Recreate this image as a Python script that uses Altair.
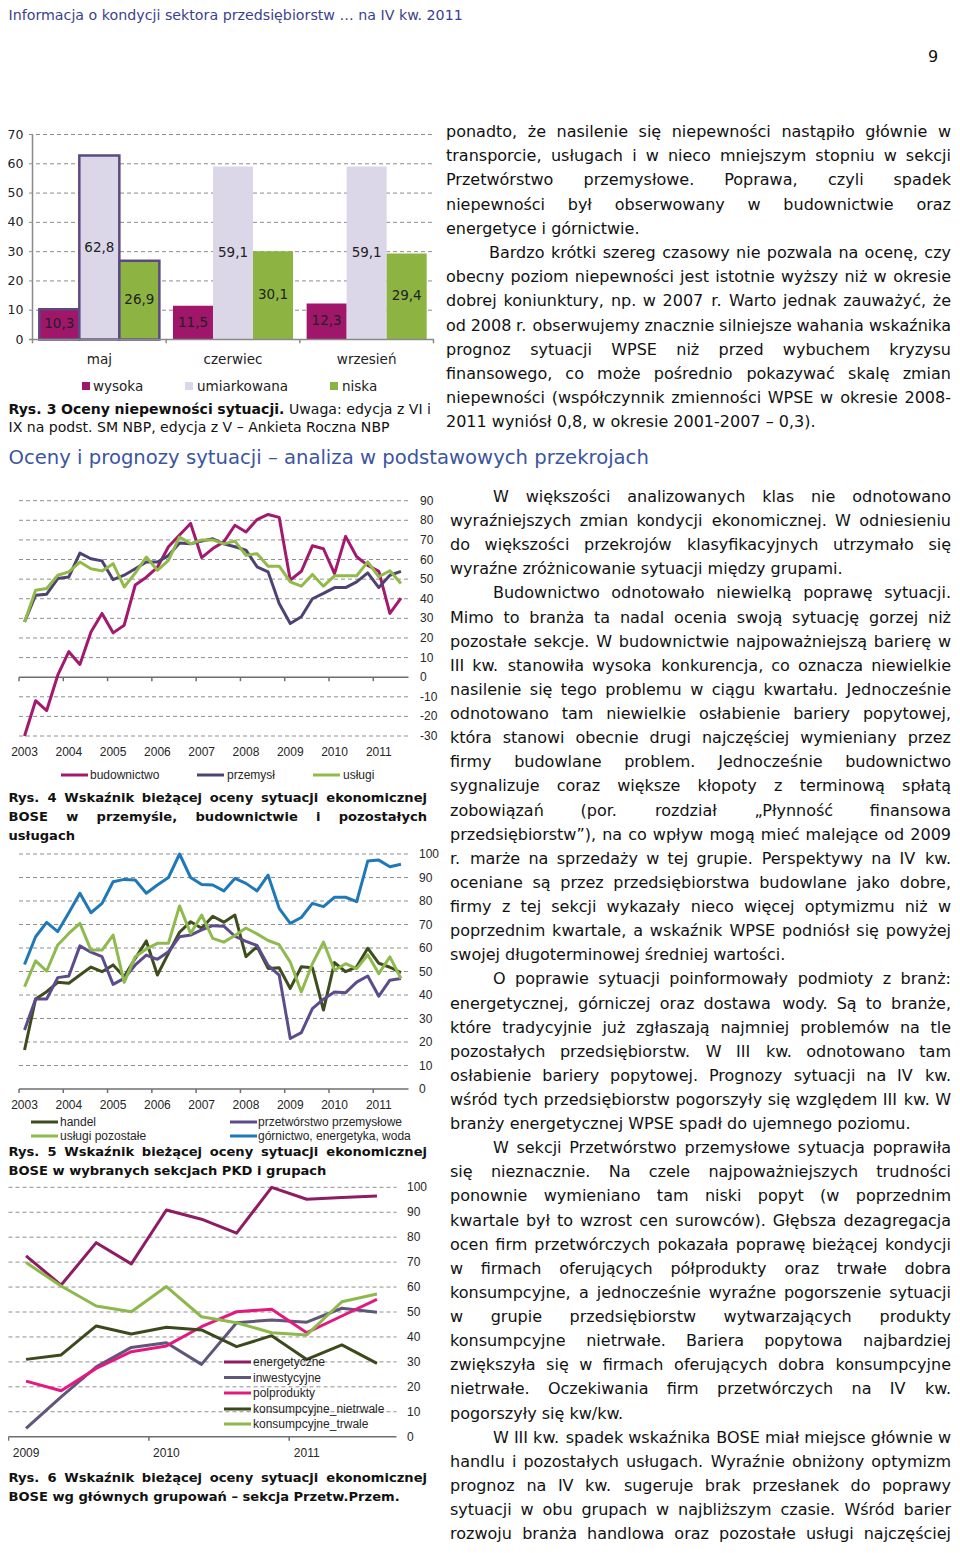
import altair as alt
import pandas as pd

# ------------------------------------------------------------------ data
# Rys. 3
months = ["maj", "czerwiec", "wrzesień"]
levels = ["wysoka", "umiarkowana", "niska"]
wysoka = [10.3, 11.5, 12.3]
umiarkowana = [62.8, 59.1, 59.1]
niska = [26.9, 30.1, 29.4]
ticks3 = [0, 10, 20, 30, 40, 50, 60, 70]
colors3 = ["#A0166B", "#DCD7E8", "#8DB443"]

# Rys. 4 (quarterly 2003Q1 - 2011Q3)
years4 = ["2003", "2004", "2005", "2006", "2007", "2008", "2009", "2010", "2011"]
names4 = ["budownictwo", "przemysł", "usługi"]
budownictwo = [-30, -12, -17, 1, 13, 6.5, 23, 32.5, 22.6, 26.5, 47, 51, 56, 66.5, 72.5, 78.4, 61, 65.6,
               69, 77.5, 74, 80.4, 83, 81.5, 49.5, 54, 67, 65.5, 52.8, 71.8, 61.4, 57, 54, 32.5, 40.3]
przemysl = [28.2, 41.8, 42.3, 50.3, 51.1, 63.3, 60.4, 59.3, 49.7, 52, 55.3, 58.7, 58.7, 62, 68.4, 68, 69.4,
            70.6, 68, 66.5, 64.8, 56.3, 53.7, 37.6, 27.4, 30.8, 40, 42.7, 45.7, 45.7, 48.6, 53.2, 45.7, 52, 54]
uslugi = [28.2, 44.3, 45.2, 52, 53.7, 58.7, 55.3, 54.2, 57.9, 46, 53.1, 61.3, 54.5, 59.6, 71.5, 68, 70, 70,
          68, 69.4, 62.2, 63, 56.6, 56.6, 48.6, 46.4, 52.4, 46.4, 51.7, 51.7, 51.7, 58.8, 51.2, 54.3, 47.8]
colors4 = ["#A3196E", "#4E4275", "#92BA48"]
ticks4 = [-30, -20, -10, 0, 10, 20, 30, 40, 50, 60, 70, 80, 90]

# Rys. 5 (quarterly 2003Q1 - 2011Q3)
names5 = ["handel", "przetwórstwo przemysłowe", "usługi pozostałe", "górnictwo, energetyka, woda"]
handel = [16.6, 38.3, 41.4, 45.4, 45, 48.5, 51.9, 49.9, 52.8, 47.8, 55.6, 63, 48.5, 57.7, 66.7, 71.2, 68.4,
          73.5, 71, 74, 56.3, 60.6, 51.3, 51.6, 42.8, 52, 51.6, 33.6, 53.8, 49.9, 52, 59.9, 53.5, 51.8, 49.5]
przetworstwo = [25.1, 38.3, 38.3, 47.4, 48.1, 60.9, 58.2, 56.3, 44.5, 47.1, 52.8, 57, 55.2, 58.4, 64.8, 65.5,
                67.7, 69.5, 69.3, 65, 62.8, 61.1, 52.6, 48.5, 21.5, 24, 34.2, 38.2, 41.3, 41, 45.5, 48.1,
                39.5, 46.3, 47]
uslugi_poz = [43.5, 54.5, 50.2, 61.3, 66.2, 70.5, 59.1, 59.1, 65.5, 45.4, 56.3, 59.6, 62, 62, 77.9, 66.2, 74,
              64.1, 62.5, 65.3, 68.5, 66, 63.2, 61.4, 54, 41.3, 53.3, 62.5, 50.5, 53.3, 51.2, 57.1, 49.1,
              56.2, 47]
gornictwo = [53, 64.8, 70.9, 67, 75, 83.3, 75, 79, 88.2, 89.2, 88.9, 83.3, 86.8, 90, 100, 90, 87, 86.8, 84.3,
             89.6, 87.5, 84.3, 91, 76.9, 70.5, 73, 79, 77.6, 81.6, 81.6, 79.7, 97, 97.4, 94.6, 95.6]
colors5 = ["#3F4D1E", "#5D4C8C", "#8EBA4E", "#1F78B8"]
ticks5 = [0, 10, 20, 30, 40, 50, 60, 70, 80, 90, 100]

# Rys. 6 (quarterly 2009Q1 - 2011Q3)
years6 = ["2009", "2010", "2011"]
names6 = ["energetyczne", "inwestycyjne", "polprodukty", "konsumpcyjne_nietrwale", "konsumpcyjne_trwale"]
energetyczne = [72.5, 60.8, 77.8, 69.3, 90.9, 87.2, 81.6, 100, 95.2, 95.9, 96.5]
inwestycyjne = [3.3, 16, 28, 35.8, 37.7, 29, 45.7, 46.8, 45.9, 51.5, 49.9]
polprodukty = [22.3, 18.4, 27.4, 34.1, 36.4, 44.1, 50.1, 51.1, 41.7, 48.4, 55.1]
nietrwale = [31, 32.8, 44.4, 41.2, 43.9, 42.8, 36.1, 40.5, 31, 36.8, 29.4]
trwale = [69.8, 60.4, 52.4, 50.1, 60.2, 48.1, 45.7, 41.7, 40.8, 54.1, 57.2]
colors6 = ["#8E1C62", "#5F5679", "#E21A80", "#3B491C", "#8DB84B"]
ticks6 = [0, 10, 20, 30, 40, 50, 60, 70, 80, 90, 100]

# ------------------------------------------------------------------ texts
header = "Informacja o kondycji sektora przedsiębiorstw … na IV kw. 2011"
page_no = "9"
section = "Oceny i prognozy sytuacji – analiza w podstawowych przekrojach"
cap3_bold = "Rys. 3 Oceny niepewności sytuacji."
cap3_norm = "Uwaga: edycja z VI i"
cap3_l2 = "IX na podst. SM NBP, edycja z V – Ankieta Roczna NBP"
cap4 = ["Rys. 4 Wskaźnik bieżącej oceny sytuacji ekonomicznej",
        "BOSE w przemyśle, budownictwie i pozostałych", "usługach"]
cap5 = ["Rys. 5 Wskaźnik bieżącej oceny sytuacji ekonomicznej",
        "BOSE w wybranych sekcjach PKD i grupach"]
cap6 = ["Rys. 6 Wskaźnik bieżącej oceny sytuacji ekonomicznej",
        "BOSE wg głównych grupowań – sekcja Przetw.Przem."]

paras_top = [
    ["ponadto, że nasilenie się niepewności nastąpiło głównie w",
     "transporcie, usługach i w nieco mniejszym stopniu w sekcji",
     "Przetwórstwo przemysłowe. Poprawa, czyli spadek",
     "niepewności był obserwowany w budownictwie oraz",
     "energetyce i górnictwie."],
    ["Bardzo krótki szereg czasowy nie pozwala na ocenę, czy",
     "obecny poziom niepewności jest istotnie wyższy niż w okresie",
     "dobrej koniunktury, np. w 2007 r. Warto jednak zauważyć, że",
     "od 2008 r. obserwujemy znacznie silniejsze wahania wskaźnika",
     "prognoz sytuacji WPSE niż przed wybuchem kryzysu",
     "finansowego, co może pośrednio pokazywać skalę zmian",
     "niepewności (współczynnik zmienności WPSE w okresie 2008-",
     "2011 wyniósł 0,8, w okresie 2001-2007 – 0,3)."],
]
paras_bottom = [
    ["W większości analizowanych klas nie odnotowano",
     "wyraźniejszych zmian kondycji ekonomicznej. W odniesieniu",
     "do większości przekrojów klasyfikacyjnych utrzymało się",
     "wyraźne zróżnicowanie sytuacji między grupami."],
    ["Budownictwo odnotowało niewielką poprawę sytuacji.",
     "Mimo to branża ta nadal ocenia swoją sytuację gorzej niż",
     "pozostałe sekcje. W budownictwie najpoważniejszą barierę w",
     "III kw. stanowiła wysoka konkurencja, co oznacza niewielkie",
     "nasilenie się tego problemu w ciągu kwartału. Jednocześnie",
     "odnotowano tam niewielkie osłabienie bariery popytowej,",
     "która stanowi obecnie drugi najczęściej wymieniany przez",
     "firmy budowlane problem. Jednocześnie budownictwo",
     "sygnalizuje coraz większe kłopoty z terminową spłatą",
     "zobowiązań (por. rozdział „Płynność finansowa",
     "przedsiębiorstw”), na co wpływ mogą mieć malejące od 2009",
     "r. marże na sprzedaży w tej grupie. Perspektywy na IV kw.",
     "oceniane są przez przedsiębiorstwa budowlane jako dobre,",
     "firmy z tej sekcji wykazały nieco więcej optymizmu niż w",
     "poprzednim kwartale, a wskaźnik WPSE podniósł się powyżej",
     "swojej długoterminowej średniej wartości."],
    ["O poprawie sytuacji poinformowały podmioty z branż:",
     "energetycznej, górniczej oraz dostawa wody. Są to branże,",
     "które tradycyjnie już zgłaszają najmniej problemów na tle",
     "pozostałych przedsiębiorstw. W III kw. odnotowano tam",
     "osłabienie bariery popytowej. Prognozy sytuacji na IV kw.",
     "wśród tych przedsiębiorstw pogorszyły się względem III kw. W",
     "branży energetycznej WPSE spadł do ujemnego poziomu."],
    ["W sekcji Przetwórstwo przemysłowe sytuacja poprawiła",
     "się nieznacznie. Na czele najpoważniejszych trudności",
     "ponownie wymieniano tam niski popyt (w poprzednim",
     "kwartale był to wzrost cen surowców). Głębsza dezagregacja",
     "ocen firm przetwórczych pokazała poprawę bieżącej kondycji",
     "w firmach oferujących półprodukty oraz trwałe dobra",
     "konsumpcyjne, a jednocześnie wyraźne pogorszenie sytuacji",
     "w grupie przedsiębiorstw wytwarzających produkty",
     "konsumpcyjne nietrwałe. Bariera popytowa najbardziej",
     "zwiększyła się w firmach oferujących dobra konsumpcyjne",
     "nietrwałe. Oczekiwania firm przetwórczych na IV kw.",
     "pogorszyły się kw/kw."],
    ["W III kw. spadek wskaźnika BOSE miał miejsce głównie w",
     "handlu i pozostałych usługach. Wyraźnie obniżony optymizm",
     "prognoz na IV kw. sugeruje brak przesłanek do poprawy",
     "sytuacji w obu grupach w najbliższym czasie. Wśród barier",
     "rozwoju branża handlowa oraz pozostałe usługi najczęściej"],
]

# ------------------------------------------------------------------ layout helpers
BF = "DejaVu Sans"        # document font
CF = "Liberation Sans"    # chart font
CC = "#262626"
LEFT = 8.5                # first visible page column (page margin is 8px)
RIGHT = 951               # last visible page column


def px(x):
    return x - 8


def py(y):
    return y - 8


REG = dict(zip("abcdefghijklmnopqrstuvwxyz",
               [0.613, 0.635, 0.550, 0.635, 0.615, 0.352, 0.635, 0.634, 0.278, 0.278, 0.579, 0.278, 0.974,
                0.634, 0.612, 0.635, 0.635, 0.411, 0.521, 0.392, 0.634, 0.592, 0.818, 0.592, 0.592, 0.525]))
REG.update(zip("ABCDEFGHIJKLMNOPQRSTUVWXYZ",
               [0.684, 0.686, 0.698, 0.770, 0.632, 0.575, 0.775, 0.752, 0.295, 0.295, 0.656, 0.557, 0.863,
                0.748, 0.787, 0.603, 0.787, 0.695, 0.635, 0.611, 0.732, 0.684, 0.989, 0.685, 0.611, 0.685]))
REG.update({c: 0.636 for c in "0123456789"})
REG.update({" ": 0.318, ".": 0.318, ",": 0.318, ":": 0.337, ";": 0.337, "(": 0.390, ")": 0.390,
            "-": 0.361, "–": 0.5, "„": 0.518, "”": 0.518, "/": 0.337, "…": 1.0, "ł": 0.29})
BOLD = dict(zip("abcdefghijklmnopqrstuvwxyz",
                [0.675, 0.716, 0.593, 0.716, 0.678, 0.435, 0.716, 0.712, 0.343, 0.343, 0.665, 0.343, 1.042,
                 0.712, 0.687, 0.716, 0.716, 0.493, 0.595, 0.478, 0.712, 0.652, 0.924, 0.645, 0.652, 0.582]))
BOLD.update(zip("ABCDEFGHIJKLMNOPQRSTUVWXYZ",
                [0.774, 0.762, 0.734, 0.830, 0.683, 0.683, 0.821, 0.837, 0.372, 0.372, 0.775, 0.637, 0.995,
                 0.837, 0.850, 0.733, 0.850, 0.770, 0.720, 0.682, 0.812, 0.774, 1.103, 0.771, 0.724, 0.725]))
BOLD.update({c: 0.696 for c in "0123456789"})
BOLD.update({" ": 0.348, ".": 0.380, ",": 0.380, ":": 0.4, "-": 0.415, "–": 0.5, "(": 0.457, ")": 0.457,
             "ł": 0.36})
BASE = str.maketrans("ąćęńóśźżĄĆĘŁŃÓŚŹŻ", "acenoszzACELNOSZZ")


def tw(s, size, bold=False):
    tab = BOLD if bold else REG
    tot = 0.0
    for ch in s:
        c = ch if ch in tab else ch.translate(BASE)
        tot += tab.get(c, 0.66 if bold else 0.6)
    return tot * size


WORDS = []


def put(text, x, y, size, bold=False, align="left", color="#111111", font=BF):
    WORDS.append(dict(x=px(x), y=py(y), t=text, size=size, bold=bold, align=align, color=color, font=font))


def line(text, y, left, right, size, justify, bold=False, color="#111111"):
    words = text.split(" ")
    if isinstance(bold, bool):
        bold = [bold] * len(words)
    n = len(words)
    if not justify or n < 2:
        if all(b == bold[0] for b in bold):
            put(text, left, y, size, bold[0], "left", color)
            return
        x = left
        for w, b in zip(words, bold):
            put(w, x, y, size, b, "left", color)
            x += tw(w, size, b) + tw(" ", size, b)
        return
    ws = [tw(w, size, b) for w, b in zip(words, bold)]
    gap = (right - left - sum(ws)) / (n - 1)
    gap = max(gap, 0.2 * size)
    half = (n + 1) // 2
    for i, (w, b) in enumerate(zip(words, bold)):
        if i < half:
            put(w, left + sum(ws[:i]) + i * gap, y, size, b, "left", color)
        else:
            put(w, right - sum(ws[i + 1:]) - (n - 1 - i) * gap, y, size, b, "right", color)


def block(paras, left, right, indent, y0, step, size, first_indented, continues):
    y = y0
    for pi, para in enumerate(paras):
        for li, ln in enumerate(para):
            last = li == len(para) - 1
            justify = not last or (continues and pi == len(paras) - 1)
            lft = indent if (li == 0 and (pi > 0 or first_indented)) else left
            line(ln, y, lft, right, size, justify)
            y += step


# header / page number / section heading
put(header, LEFT, 16, 457 / tw(header, 1), color="#3C3F8E")
put(page_no, 933, 57, 16, align="center")
put(section, LEFT, 458, 642 / tw(section, 1), color="#3C55A0")

# body text
block(paras_top, 446, RIGHT, 489, 132, 24.2, 16, False, False)
block(paras_bottom, 450, RIGHT, 493, 497, 24.12, 16, True, True)

# captions
words3 = (cap3_bold + " " + cap3_norm).split(" ")
flags3 = [True] * len(cap3_bold.split(" ")) + [False] * len(cap3_norm.split(" "))
nat3 = sum(tw(w, 1, b) for w, b in zip(words3, flags3)) + 0.3 * (len(words3) - 1)
s3 = min(382 / tw(cap3_l2, 1), 423 / nat3)
line(" ".join(words3), 410, LEFT, 431, s3, True, flags3)
line(cap3_l2, 428, LEFT, 431, s3, False)

sb = 318 / tw(cap5[1], 1, True)
for i, ln in enumerate(cap4):
    line(ln, 798 + 19 * i, LEFT, 427, sb, i < 2, True)
for i, ln in enumerate(cap5):
    line(ln, 1152 + 19 * i, LEFT, 427, sb, i < 1, True)
for i, ln in enumerate(cap6):
    line(ln, 1478 + 19 * i, LEFT, 427, sb, i < 1, True)

# ------------------------------------------------------------------ Rys. 3 bar chart
T3 = "DejaVu Sans"
recs = []
for m, a, b, c in zip(months, wysoka, umiarkowana, niska):
    for lv, v in zip(levels, (a, b, c)):
        recs.append({"month": m, "level": lv, "value": v})
df3 = pd.DataFrame(recs)
x3 = alt.X("month:N", sort=months, axis=None,
           scale=alt.Scale(domain=months, range=[px(32.5), px(433.5)], paddingInner=0, paddingOuter=0))
xo3 = alt.XOffset("level:N", sort=levels,
                  scale=alt.Scale(domain=levels, paddingInner=0, paddingOuter=0.17))
y3s = alt.Scale(domain=[0, 70], range=[py(339.5), py(134.5)])

grid3 = alt.Chart(pd.DataFrame({"t": [t for t in ticks3 if t != 0]})).mark_rule(
    color="#8c8c8c", strokeDash=[4, 3], strokeWidth=1).encode(
    y=alt.Y("t:Q", scale=y3s, axis=None), x=alt.value(px(29)), x2=alt.value(px(433.5)))
axis3 = alt.Chart(pd.DataFrame({"t": [0]})).mark_rule(color="#8a8a8a", strokeWidth=1.5).encode(
    y=alt.Y("t:Q", scale=y3s, axis=None), x=alt.value(px(29)), x2=alt.value(px(434)))
vax3 = alt.Chart(pd.DataFrame({"a": [0], "b": [70]})).mark_rule(color="#8a8a8a", strokeWidth=1.5).encode(
    y=alt.Y("a:Q", scale=y3s, axis=None), y2="b:Q", x=alt.value(px(32.5)))
bounds = [32.5 + k * (401 / 3) for k in range(4)]
tk3 = alt.Chart(pd.DataFrame({"bx": [px(b) for b in bounds], "a": 0.0, "b": -1.3})).mark_rule(
    color="#8a8a8a", strokeWidth=1.5).encode(
    x=alt.X("bx:Q", scale=None, axis=None), y=alt.Y("a:Q", scale=y3s, axis=None), y2="b:Q")
bars3 = alt.Chart(df3).mark_bar(strokeWidth=2.5).encode(
    x=x3, xOffset=xo3, y=alt.Y("value:Q", scale=y3s, axis=None),
    color=alt.Color("level:N", scale=alt.Scale(domain=levels, range=colors3), legend=None),
    stroke=alt.condition("datum.month == 'maj'", alt.value("#5B4A82"), alt.value("transparent")))
lab3 = alt.Chart(df3).transform_calculate(
    mid="datum.value / 2", lab="replace(format(datum.value, '.1f'), '.', ',')").mark_text(
    font=T3, fontSize=13.5, color="#222222", baseline="middle").encode(
    x=x3, xOffset=xo3, y=alt.Y("mid:Q", scale=y3s, axis=None), text="lab:N")
ylab3 = alt.Chart(pd.DataFrame({"t": ticks3, "lab": [str(t) for t in ticks3]})).mark_text(
    font=T3, fontSize=12.5, color="#222222", align="right", baseline="middle").encode(
    x=alt.value(px(23.5)), y=alt.Y("t:Q", scale=y3s, axis=None), text="lab:N")
cat3 = alt.Chart(pd.DataFrame({"month": months})).mark_text(
    font=T3, fontSize=13.5, color="#222222", baseline="middle").encode(
    x=x3, y=alt.value(py(360)), text="month:N")
leg3 = pd.DataFrame({"level": levels, "sx": [px(82), px(185), px(330)],
                     "tx": [px(93), px(197), px(342)]})
leg3["sx2"] = leg3["sx"] + 8
leg3["y1"] = py(382)
leg3["y2"] = py(390)
leg3["ty"] = py(386.5)
legsq3 = alt.Chart(leg3).mark_rect().encode(
    x=alt.X("sx:Q", scale=None, axis=None), x2="sx2:Q",
    y=alt.Y("y1:Q", scale=None, axis=None), y2="y2:Q",
    color=alt.Color("level:N", scale=alt.Scale(domain=levels, range=colors3), legend=None))
legtx3 = alt.Chart(leg3).mark_text(font=T3, fontSize=13.5, color="#222222", align="left",
                                   baseline="middle").encode(
    x=alt.X("tx:Q", scale=None, axis=None), y=alt.Y("ty:Q", scale=None, axis=None), text="level:N")
panel3 = alt.layer(grid3, bars3, axis3, vax3, tk3, lab3, ylab3, cat3, legsq3, legtx3)


# ------------------------------------------------------------------ line panels
def line_panel(series, colors, x0, x1, y_dom, y_px, ticks, lab_x, years, year_y):
    n = len(series[0])
    xs = alt.Scale(domain=[-0.5, n - 0.5], range=[px(x0), px(x1)])
    ys = alt.Scale(domain=y_dom, range=[py(y_px[0]), py(y_px[1])])
    ppu = (y_px[0] - y_px[1]) / (y_dom[1] - y_dom[0])
    layers = []
    layers.append(alt.Chart(pd.DataFrame({"t": [t for t in ticks if t != 0]})).mark_rule(
        color="#8f8f8f", strokeWidth=1, strokeDash=[4, 3]).encode(
        y=alt.Y("t:Q", scale=ys, axis=None), x=alt.value(px(x0)), x2=alt.value(px(x1 + 2))))
    layers.append(alt.Chart(pd.DataFrame({"t": [0]})).mark_rule(color="#6f6f6f", strokeWidth=1.5).encode(
        y=alt.Y("t:Q", scale=ys, axis=None), x=alt.value(px(x0)), x2=alt.value(px(x1 + 2))))
    tk = pd.DataFrame({"b": [k * 4 - 0.5 for k in range(len(years))], "z": 0.0, "z2": -4.0 / ppu})
    layers.append(alt.Chart(tk).mark_rule(color="#6f6f6f", strokeWidth=1.5).encode(
        x=alt.X("b:Q", scale=xs, axis=None), y=alt.Y("z:Q", scale=ys, axis=None), y2="z2:Q"))
    layers.append(alt.Chart(pd.DataFrame({"t": ticks, "lab": [str(t) for t in ticks]})).mark_text(
        align="left", baseline="middle", font=CF, fontSize=12, color=CC).encode(
        x=alt.value(px(lab_x)), y=alt.Y("t:Q", scale=ys, axis=None), text="lab:N"))
    layers.append(alt.Chart(pd.DataFrame({"q": [k * 4 for k in range(len(years))], "lab": years})).mark_text(
        baseline="middle", font=CF, fontSize=12, color=CC).encode(
        x=alt.X("q:Q", scale=xs, axis=None), y=alt.value(py(year_y)), text="lab:N"))
    for vals, col in zip(series, colors):
        d = pd.DataFrame({"i": list(range(n)), "v": vals})
        layers.append(alt.Chart(d).mark_line(color=col, strokeWidth=3, strokeJoin="round").encode(
            x=alt.X("i:Q", scale=xs, axis=None), y=alt.Y("v:Q", scale=ys, axis=None)))
    return layers


def legend(names, colors, xs0, ys0, txs):
    d = pd.DataFrame({"name": names, "c": colors,
                      "x0": [px(x) for x in xs0], "x1": [px(x + 27) for x in xs0],
                      "y": [py(y) for y in ys0], "tx": [px(x) for x in txs]})
    ln = alt.Chart(d).mark_rule(strokeWidth=3).encode(
        x=alt.X("x0:Q", scale=None, axis=None), x2="x1:Q", y=alt.Y("y:Q", scale=None, axis=None),
        color=alt.Color("c:N", scale=None, legend=None))
    tx = alt.Chart(d).mark_text(align="left", baseline="middle", font=CF, fontSize=12, color=CC).encode(
        x=alt.X("tx:Q", scale=None, axis=None), y=alt.Y("y:Q", scale=None, axis=None), text="name:N")
    return [ln, tx]


panel4 = alt.layer(*line_panel([budownictwo, przemysl, uslugi], colors4, 19, 406.5, [-30, 90], [736, 500.7],
                               ticks4, 420, years4, 752),
                   *legend(names4, colors4, [61, 197, 313], [775, 775, 775], [90, 227, 343]))
panel5 = alt.layer(*line_panel([handel, przetworstwo, uslugi_poz, gornictwo], colors5, 19, 406.5, [0, 100],
                               [1089, 854], ticks5, 419, years4, 1105),
                   *legend(names5, colors5, [31, 230, 31, 230], [1122, 1122, 1136, 1136], [60, 258, 60, 258]))
panel6 = alt.layer(*line_panel([energetyczne, inwestycyjne, polprodukty, nietrwale, trwale], colors6, 8.5, 394.5,
                               [0, 100], [1436.7, 1187.3], ticks6, 407, years6, 1453),
                   *legend(names6, colors6, [224] * 5, [1362, 1377.5, 1393, 1409, 1424], [253] * 5))

# ------------------------------------------------------------------ text layers
wdf = pd.DataFrame(WORDS)
text_layers = []
for (al, bo, fo), g in wdf.groupby(["align", "bold", "font"]):
    text_layers.append(alt.Chart(g.reset_index(drop=True)).mark_text(
        align=al, baseline="middle", font=fo, fontWeight="bold" if bo else "normal").encode(
        x=alt.X("x:Q", scale=None, axis=None), y=alt.Y("y:Q", scale=None, axis=None),
        text="t:N", size=alt.Size("size:Q", scale=None, legend=None),
        color=alt.Color("color:N", scale=None, legend=None)))

chart = alt.layer(panel3, panel4, panel5, panel6, *text_layers).resolve_scale(
    x="independent", y="independent", color="independent", size="independent"
).properties(
    width=944, height=1537, autosize=alt.AutoSizeParams(type="none"), padding=0,
    background="white"
).configure_view(stroke=None)

chart.save("out.html", embed_options={"renderer": "svg", "actions": False})
